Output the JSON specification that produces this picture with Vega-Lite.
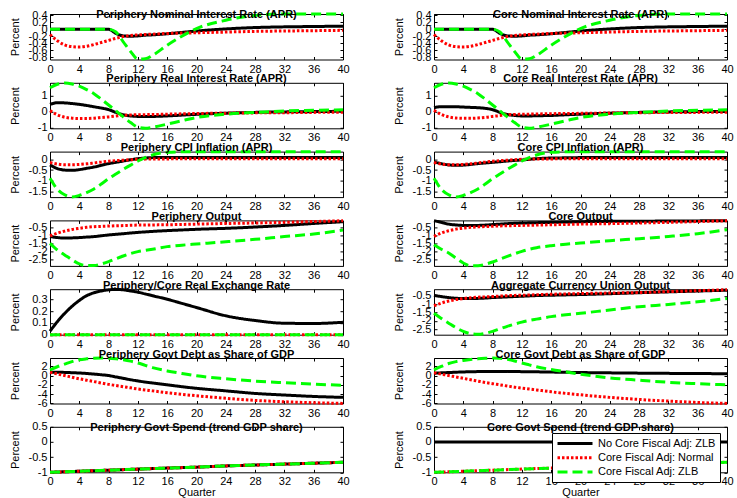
{
"$schema": "https://vega.github.io/schema/vega-lite/v6.json",
"padding": {"left": 8, "top": 7, "right": 5, "bottom": 5},
"background": "white",
"data": {"values": [
{"p":"pn","q":0,"a":0,"b":-0.15,"c":0},{"p":"pn","q":1,"a":0,"b":-0.33,"c":0},{"p":"pn","q":2,"a":0,"b":-0.45,"c":0},{"p":"pn","q":3,"a":0,"b":-0.5,"c":0},{"p":"pn","q":4,"a":0,"b":-0.51,"c":0},{"p":"pn","q":5,"a":0,"b":-0.49,"c":0},{"p":"pn","q":6,"a":0,"b":-0.44,"c":0},{"p":"pn","q":7,"a":0,"b":-0.38,"c":0},{"p":"pn","q":8,"a":0,"b":-0.32,"c":0},{"p":"pn","q":9,"a":-0.12,"b":-0.26,"c":-0.08},{"p":"pn","q":10,"a":-0.19,"b":-0.21,"c":-0.36},{"p":"pn","q":11,"a":-0.2,"b":-0.18,"c":-0.64},{"p":"pn","q":12,"a":-0.19,"b":-0.16,"c":-0.86},{"p":"pn","q":13,"a":-0.17,"b":-0.15,"c":-0.85},{"p":"pn","q":14,"a":-0.16,"b":-0.14,"c":-0.75},{"p":"pn","q":16,"a":-0.13,"b":-0.12,"c":-0.46},{"p":"pn","q":18,"a":-0.09,"b":-0.11,"c":-0.2},{"p":"pn","q":20,"a":-0.05,"b":-0.1,"c":0.02},{"p":"pn","q":24,"a":0.01,"b":-0.08,"c":0.26},{"p":"pn","q":28,"a":0.05,"b":-0.06,"c":0.4},{"p":"pn","q":32,"a":0.07,"b":-0.05,"c":0.44},{"p":"pn","q":36,"a":0.08,"b":-0.04,"c":0.44},{"p":"pn","q":40,"a":0.09,"b":-0.03,"c":0.44},
{"p":"cn","q":0,"a":0,"b":-0.15,"c":0},{"p":"cn","q":1,"a":0,"b":-0.33,"c":0},{"p":"cn","q":2,"a":0,"b":-0.45,"c":0},{"p":"cn","q":3,"a":0,"b":-0.5,"c":0},{"p":"cn","q":4,"a":0,"b":-0.51,"c":0},{"p":"cn","q":5,"a":0,"b":-0.49,"c":0},{"p":"cn","q":6,"a":0,"b":-0.44,"c":0},{"p":"cn","q":7,"a":0,"b":-0.38,"c":0},{"p":"cn","q":8,"a":0,"b":-0.32,"c":0},{"p":"cn","q":9,"a":-0.12,"b":-0.26,"c":-0.08},{"p":"cn","q":10,"a":-0.19,"b":-0.21,"c":-0.36},{"p":"cn","q":11,"a":-0.2,"b":-0.18,"c":-0.64},{"p":"cn","q":12,"a":-0.19,"b":-0.16,"c":-0.86},{"p":"cn","q":13,"a":-0.17,"b":-0.15,"c":-0.85},{"p":"cn","q":14,"a":-0.16,"b":-0.14,"c":-0.75},{"p":"cn","q":16,"a":-0.13,"b":-0.12,"c":-0.46},{"p":"cn","q":18,"a":-0.09,"b":-0.11,"c":-0.2},{"p":"cn","q":20,"a":-0.05,"b":-0.1,"c":0.02},{"p":"cn","q":24,"a":0.01,"b":-0.08,"c":0.26},{"p":"cn","q":28,"a":0.05,"b":-0.06,"c":0.4},{"p":"cn","q":32,"a":0.07,"b":-0.05,"c":0.44},{"p":"cn","q":36,"a":0.08,"b":-0.04,"c":0.44},{"p":"cn","q":40,"a":0.09,"b":-0.03,"c":0.44},
{"p":"pr","q":0,"a":0.45,"b":0.06,"c":1.48},{"p":"pr","q":1,"a":0.55,"b":-0.2,"c":1.7},{"p":"pr","q":2,"a":0.54,"b":-0.35,"c":1.78},{"p":"pr","q":3,"a":0.5,"b":-0.41,"c":1.72},{"p":"pr","q":4,"a":0.45,"b":-0.43,"c":1.58},{"p":"pr","q":5,"a":0.38,"b":-0.43,"c":1.37},{"p":"pr","q":6,"a":0.3,"b":-0.41,"c":1.11},{"p":"pr","q":7,"a":0.22,"b":-0.37,"c":0.77},{"p":"pr","q":8,"a":0.12,"b":-0.33,"c":0.41},{"p":"pr","q":9,"a":-0.05,"b":-0.28,"c":0.04},{"p":"pr","q":10,"a":-0.2,"b":-0.23,"c":-0.33},{"p":"pr","q":11,"a":-0.27,"b":-0.21,"c":-0.68},{"p":"pr","q":12,"a":-0.3,"b":-0.2,"c":-0.97},{"p":"pr","q":13,"a":-0.3,"b":-0.19,"c":-1.04},{"p":"pr","q":14,"a":-0.3,"b":-0.18,"c":-0.98},{"p":"pr","q":16,"a":-0.27,"b":-0.16,"c":-0.78},{"p":"pr","q":18,"a":-0.22,"b":-0.14,"c":-0.57},{"p":"pr","q":20,"a":-0.17,"b":-0.12,"c":-0.37},{"p":"pr","q":24,"a":-0.1,"b":-0.1,"c":-0.16},{"p":"pr","q":28,"a":-0.05,"b":-0.08,"c":-0.05},{"p":"pr","q":32,"a":-0.02,"b":-0.07,"c":0.04},{"p":"pr","q":36,"a":0,"b":-0.05,"c":0.08},{"p":"pr","q":40,"a":0.02,"b":-0.04,"c":0.11},
{"p":"cr","q":0,"a":0.25,"b":0.08,"c":1.48},{"p":"cr","q":1,"a":0.3,"b":-0.18,"c":1.7},{"p":"cr","q":2,"a":0.3,"b":-0.33,"c":1.78},{"p":"cr","q":3,"a":0.3,"b":-0.4,"c":1.72},{"p":"cr","q":4,"a":0.28,"b":-0.42,"c":1.58},{"p":"cr","q":5,"a":0.26,"b":-0.42,"c":1.37},{"p":"cr","q":6,"a":0.24,"b":-0.4,"c":1.11},{"p":"cr","q":7,"a":0.2,"b":-0.36,"c":0.77},{"p":"cr","q":8,"a":0.12,"b":-0.3,"c":0.41},{"p":"cr","q":9,"a":-0.05,"b":-0.25,"c":0.04},{"p":"cr","q":10,"a":-0.18,"b":-0.2,"c":-0.33},{"p":"cr","q":11,"a":-0.24,"b":-0.18,"c":-0.68},{"p":"cr","q":12,"a":-0.27,"b":-0.17,"c":-0.97},{"p":"cr","q":13,"a":-0.27,"b":-0.16,"c":-1.04},{"p":"cr","q":14,"a":-0.26,"b":-0.15,"c":-0.98},{"p":"cr","q":16,"a":-0.24,"b":-0.13,"c":-0.78},{"p":"cr","q":18,"a":-0.2,"b":-0.12,"c":-0.57},{"p":"cr","q":20,"a":-0.16,"b":-0.11,"c":-0.37},{"p":"cr","q":24,"a":-0.1,"b":-0.09,"c":-0.16},{"p":"cr","q":28,"a":-0.05,"b":-0.07,"c":-0.05},{"p":"cr","q":32,"a":-0.02,"b":-0.06,"c":0.04},{"p":"cr","q":36,"a":0,"b":-0.05,"c":0.08},{"p":"cr","q":40,"a":0.01,"b":-0.04,"c":0.11},
{"p":"pc","q":0,"a":-0.26,"b":-0.15,"c":-0.88},{"p":"pc","q":1,"a":-0.43,"b":-0.22,"c":-1.39},{"p":"pc","q":2,"a":-0.5,"b":-0.25,"c":-1.65},{"p":"pc","q":3,"a":-0.51,"b":-0.25,"c":-1.75},{"p":"pc","q":4,"a":-0.48,"b":-0.24,"c":-1.68},{"p":"pc","q":5,"a":-0.42,"b":-0.21,"c":-1.55},{"p":"pc","q":6,"a":-0.36,"b":-0.17,"c":-1.38},{"p":"pc","q":7,"a":-0.28,"b":-0.13,"c":-1.15},{"p":"pc","q":8,"a":-0.2,"b":-0.09,"c":-0.9},{"p":"pc","q":9,"a":-0.14,"b":-0.06,"c":-0.68},{"p":"pc","q":10,"a":-0.08,"b":-0.04,"c":-0.47},{"p":"pc","q":11,"a":-0.02,"b":-0.02,"c":-0.27},{"p":"pc","q":12,"a":0.03,"b":0,"c":-0.08},{"p":"pc","q":13,"a":0.06,"b":0.01,"c":0.08},{"p":"pc","q":14,"a":0.08,"b":0.02,"c":0.2},{"p":"pc","q":16,"a":0.09,"b":0.02,"c":0.33},{"p":"pc","q":18,"a":0.09,"b":0.03,"c":0.35},{"p":"pc","q":20,"a":0.09,"b":0.03,"c":0.35},{"p":"pc","q":24,"a":0.09,"b":0.03,"c":0.35},{"p":"pc","q":28,"a":0.09,"b":0.03,"c":0.35},{"p":"pc","q":32,"a":0.09,"b":0.03,"c":0.35},{"p":"pc","q":36,"a":0.09,"b":0.03,"c":0.35},{"p":"pc","q":40,"a":0.09,"b":0.03,"c":0.35},
{"p":"cc","q":0,"a":-0.12,"b":-0.15,"c":-0.88},{"p":"cc","q":1,"a":-0.2,"b":-0.22,"c":-1.39},{"p":"cc","q":2,"a":-0.26,"b":-0.25,"c":-1.65},{"p":"cc","q":3,"a":-0.28,"b":-0.25,"c":-1.75},{"p":"cc","q":4,"a":-0.27,"b":-0.24,"c":-1.68},{"p":"cc","q":5,"a":-0.24,"b":-0.21,"c":-1.55},{"p":"cc","q":6,"a":-0.2,"b":-0.17,"c":-1.38},{"p":"cc","q":7,"a":-0.17,"b":-0.13,"c":-1.15},{"p":"cc","q":8,"a":-0.14,"b":-0.09,"c":-0.9},{"p":"cc","q":9,"a":-0.11,"b":-0.06,"c":-0.68},{"p":"cc","q":10,"a":-0.08,"b":-0.04,"c":-0.47},{"p":"cc","q":11,"a":-0.05,"b":-0.02,"c":-0.27},{"p":"cc","q":12,"a":-0.03,"b":0,"c":-0.08},{"p":"cc","q":13,"a":0,"b":0.01,"c":0.08},{"p":"cc","q":14,"a":0.03,"b":0.02,"c":0.2},{"p":"cc","q":16,"a":0.06,"b":0.02,"c":0.33},{"p":"cc","q":18,"a":0.07,"b":0.03,"c":0.35},{"p":"cc","q":20,"a":0.08,"b":0.03,"c":0.35},{"p":"cc","q":24,"a":0.08,"b":0.03,"c":0.35},{"p":"cc","q":28,"a":0.08,"b":0.03,"c":0.35},{"p":"cc","q":32,"a":0.08,"b":0.03,"c":0.35},{"p":"cc","q":36,"a":0.08,"b":0.03,"c":0.35},{"p":"cc","q":40,"a":0.08,"b":0.03,"c":0.35},
{"p":"po","q":0,"a":-1.07,"b":-1.03,"c":-1.49},{"p":"po","q":1,"a":-1.13,"b":-0.86,"c":-1.9},{"p":"po","q":2,"a":-1.16,"b":-0.73,"c":-2.2},{"p":"po","q":3,"a":-1.15,"b":-0.63,"c":-2.5},{"p":"po","q":4,"a":-1.13,"b":-0.56,"c":-2.76},{"p":"po","q":5,"a":-1.1,"b":-0.5,"c":-2.86},{"p":"po","q":6,"a":-1.07,"b":-0.46,"c":-2.86},{"p":"po","q":7,"a":-1.02,"b":-0.44,"c":-2.76},{"p":"po","q":8,"a":-0.97,"b":-0.42,"c":-2.62},{"p":"po","q":9,"a":-0.93,"b":-0.4,"c":-2.44},{"p":"po","q":10,"a":-0.89,"b":-0.39,"c":-2.27},{"p":"po","q":11,"a":-0.85,"b":-0.37,"c":-2.12},{"p":"po","q":12,"a":-0.81,"b":-0.36,"c":-2.0},{"p":"po","q":13,"a":-0.78,"b":-0.36,"c":-1.92},{"p":"po","q":14,"a":-0.75,"b":-0.35,"c":-1.85},{"p":"po","q":16,"a":-0.7,"b":-0.34,"c":-1.69},{"p":"po","q":18,"a":-0.66,"b":-0.32,"c":-1.6},{"p":"po","q":20,"a":-0.62,"b":-0.3,"c":-1.53},{"p":"po","q":24,"a":-0.56,"b":-0.26,"c":-1.39},{"p":"po","q":28,"a":-0.48,"b":-0.23,"c":-1.24},{"p":"po","q":32,"a":-0.38,"b":-0.19,"c":-1.07},{"p":"po","q":36,"a":-0.26,"b":-0.14,"c":-0.91},{"p":"po","q":40,"a":-0.15,"b":-0.09,"c":-0.67},
{"p":"co","q":0,"a":-0.09,"b":-1.06,"c":-1.57},{"p":"co","q":1,"a":-0.19,"b":-0.85,"c":-1.85},{"p":"co","q":2,"a":-0.3,"b":-0.71,"c":-2.08},{"p":"co","q":3,"a":-0.35,"b":-0.61,"c":-2.4},{"p":"co","q":4,"a":-0.38,"b":-0.54,"c":-2.7},{"p":"co","q":5,"a":-0.39,"b":-0.5,"c":-2.87},{"p":"co","q":6,"a":-0.38,"b":-0.47,"c":-2.87},{"p":"co","q":7,"a":-0.36,"b":-0.45,"c":-2.78},{"p":"co","q":8,"a":-0.33,"b":-0.43,"c":-2.64},{"p":"co","q":9,"a":-0.3,"b":-0.41,"c":-2.46},{"p":"co","q":10,"a":-0.27,"b":-0.4,"c":-2.29},{"p":"co","q":11,"a":-0.25,"b":-0.39,"c":-2.13},{"p":"co","q":12,"a":-0.23,"b":-0.38,"c":-1.98},{"p":"co","q":13,"a":-0.22,"b":-0.37,"c":-1.86},{"p":"co","q":14,"a":-0.21,"b":-0.36,"c":-1.76},{"p":"co","q":16,"a":-0.19,"b":-0.34,"c":-1.63},{"p":"co","q":18,"a":-0.17,"b":-0.32,"c":-1.54},{"p":"co","q":20,"a":-0.15,"b":-0.3,"c":-1.47},{"p":"co","q":24,"a":-0.13,"b":-0.27,"c":-1.32},{"p":"co","q":28,"a":-0.12,"b":-0.23,"c":-1.2},{"p":"co","q":32,"a":-0.11,"b":-0.19,"c":-1.06},{"p":"co","q":36,"a":-0.1,"b":-0.14,"c":-0.89},{"p":"co","q":40,"a":-0.09,"b":-0.09,"c":-0.64},
{"p":"rx","q":0,"a":0.03,"b":0,"c":0},{"p":"rx","q":1,"a":0.11,"b":0,"c":0},{"p":"rx","q":2,"a":0.18,"b":0,"c":0},{"p":"rx","q":3,"a":0.24,"b":0,"c":0},{"p":"rx","q":4,"a":0.29,"b":0,"c":0},{"p":"rx","q":5,"a":0.33,"b":0,"c":0},{"p":"rx","q":6,"a":0.355,"b":0,"c":0},{"p":"rx","q":7,"a":0.37,"b":0,"c":0},{"p":"rx","q":8,"a":0.38,"b":0,"c":0},{"p":"rx","q":9,"a":0.383,"b":0,"c":0},{"p":"rx","q":10,"a":0.38,"b":0,"c":0},{"p":"rx","q":11,"a":0.37,"b":0,"c":0},{"p":"rx","q":12,"a":0.36,"b":0,"c":0},{"p":"rx","q":13,"a":0.345,"b":0,"c":0},{"p":"rx","q":14,"a":0.33,"b":0,"c":0},{"p":"rx","q":16,"a":0.3,"b":0,"c":0},{"p":"rx","q":18,"a":0.265,"b":0,"c":0},{"p":"rx","q":20,"a":0.23,"b":0,"c":0},{"p":"rx","q":24,"a":0.16,"b":0,"c":0},{"p":"rx","q":28,"a":0.12,"b":0,"c":0},{"p":"rx","q":32,"a":0.097,"b":0,"c":0},{"p":"rx","q":36,"a":0.095,"b":0,"c":0},{"p":"rx","q":40,"a":0.105,"b":0,"c":0},
{"p":"ao","q":0,"a":-0.46,"b":-1.09,"c":-1.54},{"p":"ao","q":1,"a":-0.54,"b":-0.93,"c":-1.85},{"p":"ao","q":2,"a":-0.6,"b":-0.81,"c":-2.13},{"p":"ao","q":3,"a":-0.64,"b":-0.72,"c":-2.4},{"p":"ao","q":4,"a":-0.66,"b":-0.66,"c":-2.62},{"p":"ao","q":5,"a":-0.66,"b":-0.61,"c":-2.76},{"p":"ao","q":6,"a":-0.65,"b":-0.58,"c":-2.8},{"p":"ao","q":7,"a":-0.63,"b":-0.56,"c":-2.74},{"p":"ao","q":8,"a":-0.6,"b":-0.54,"c":-2.62},{"p":"ao","q":9,"a":-0.58,"b":-0.51,"c":-2.47},{"p":"ao","q":10,"a":-0.56,"b":-0.49,"c":-2.32},{"p":"ao","q":11,"a":-0.54,"b":-0.47,"c":-2.19},{"p":"ao","q":12,"a":-0.52,"b":-0.46,"c":-2.07},{"p":"ao","q":13,"a":-0.5,"b":-0.45,"c":-1.97},{"p":"ao","q":14,"a":-0.48,"b":-0.43,"c":-1.89},{"p":"ao","q":16,"a":-0.46,"b":-0.4,"c":-1.74},{"p":"ao","q":18,"a":-0.44,"b":-0.38,"c":-1.63},{"p":"ao","q":20,"a":-0.42,"b":-0.36,"c":-1.54},{"p":"ao","q":24,"a":-0.37,"b":-0.33,"c":-1.34},{"p":"ao","q":28,"a":-0.31,"b":-0.3,"c":-1.15},{"p":"ao","q":32,"a":-0.26,"b":-0.24,"c":-1.01},{"p":"ao","q":36,"a":-0.21,"b":-0.19,"c":-0.85},{"p":"ao","q":40,"a":-0.16,"b":-0.13,"c":-0.66},
{"p":"pd","q":0,"a":0.72,"b":0.7,"c":1.24},{"p":"pd","q":1,"a":0.71,"b":0.35,"c":1.9},{"p":"pd","q":2,"a":0.68,"b":0,"c":2.46},{"p":"pd","q":3,"a":0.62,"b":-0.35,"c":3.0},{"p":"pd","q":4,"a":0.55,"b":-0.7,"c":3.4},{"p":"pd","q":5,"a":0.45,"b":-1.0,"c":3.6},{"p":"pd","q":6,"a":0.32,"b":-1.3,"c":3.72},{"p":"pd","q":7,"a":0.17,"b":-1.6,"c":3.76},{"p":"pd","q":8,"a":0,"b":-1.9,"c":3.74},{"p":"pd","q":9,"a":-0.3,"b":-2.15,"c":3.62},{"p":"pd","q":10,"a":-0.6,"b":-2.4,"c":3.4},{"p":"pd","q":11,"a":-0.9,"b":-2.65,"c":3.1},{"p":"pd","q":12,"a":-1.16,"b":-2.9,"c":2.7},{"p":"pd","q":13,"a":-1.4,"b":-3.1,"c":2.2},{"p":"pd","q":14,"a":-1.6,"b":-3.3,"c":1.7},{"p":"pd","q":16,"a":-2.0,"b":-3.7,"c":1.0},{"p":"pd","q":18,"a":-2.4,"b":-4.05,"c":0.45},{"p":"pd","q":20,"a":-2.75,"b":-4.35,"c":-0.05},{"p":"pd","q":24,"a":-3.3,"b":-4.9,"c":-0.7},{"p":"pd","q":28,"a":-3.85,"b":-5.35,"c":-1.2},{"p":"pd","q":32,"a":-4.2,"b":-5.65,"c":-1.55},{"p":"pd","q":36,"a":-4.5,"b":-5.85,"c":-1.85},{"p":"pd","q":40,"a":-4.7,"b":-6.0,"c":-2.1},
{"p":"cd","q":0,"a":0.5,"b":0.6,"c":1.24},{"p":"cd","q":1,"a":0.58,"b":0.3,"c":1.95},{"p":"cd","q":2,"a":0.65,"b":0,"c":2.6},{"p":"cd","q":3,"a":0.72,"b":-0.3,"c":3.0},{"p":"cd","q":4,"a":0.78,"b":-0.6,"c":3.25},{"p":"cd","q":5,"a":0.82,"b":-0.9,"c":3.45},{"p":"cd","q":6,"a":0.85,"b":-1.2,"c":3.6},{"p":"cd","q":7,"a":0.87,"b":-1.5,"c":3.7},{"p":"cd","q":8,"a":0.88,"b":-1.75,"c":3.76},{"p":"cd","q":9,"a":0.88,"b":-2.0,"c":3.7},{"p":"cd","q":10,"a":0.87,"b":-2.25,"c":3.5},{"p":"cd","q":11,"a":0.86,"b":-2.5,"c":3.15},{"p":"cd","q":12,"a":0.84,"b":-2.7,"c":2.7},{"p":"cd","q":13,"a":0.82,"b":-2.9,"c":2.3},{"p":"cd","q":14,"a":0.8,"b":-3.1,"c":1.9},{"p":"cd","q":16,"a":0.75,"b":-3.5,"c":1.3},{"p":"cd","q":18,"a":0.7,"b":-3.85,"c":0.8},{"p":"cd","q":20,"a":0.65,"b":-4.15,"c":0.3},{"p":"cd","q":24,"a":0.58,"b":-4.7,"c":-0.5},{"p":"cd","q":28,"a":0.52,"b":-5.15,"c":-1.0},{"p":"cd","q":32,"a":0.47,"b":-5.5,"c":-1.45},{"p":"cd","q":36,"a":0.43,"b":-5.8,"c":-1.75},{"p":"cd","q":40,"a":0.4,"b":-6.0,"c":-2.0},
{"p":"ps","q":0,"a":-1.0,"b":-1.0,"c":-1.0},{"p":"ps","q":4,"a":-0.965,"b":-0.965,"c":-0.965},{"p":"ps","q":8,"a":-0.93,"b":-0.93,"c":-0.93},{"p":"ps","q":12,"a":-0.895,"b":-0.895,"c":-0.895},{"p":"ps","q":16,"a":-0.86,"b":-0.86,"c":-0.86},{"p":"ps","q":20,"a":-0.83,"b":-0.83,"c":-0.83},{"p":"ps","q":24,"a":-0.79,"b":-0.79,"c":-0.79},{"p":"ps","q":28,"a":-0.76,"b":-0.76,"c":-0.76},{"p":"ps","q":32,"a":-0.73,"b":-0.73,"c":-0.73},{"p":"ps","q":36,"a":-0.7,"b":-0.7,"c":-0.7},{"p":"ps","q":40,"a":-0.67,"b":-0.67,"c":-0.67},
{"p":"cs","q":0,"a":0,"b":-1.0,"c":-1.0},{"p":"cs","q":4,"a":0,"b":-0.965,"c":-0.965},{"p":"cs","q":8,"a":0,"b":-0.93,"c":-0.93},{"p":"cs","q":12,"a":0,"b":-0.895,"c":-0.895},{"p":"cs","q":16,"a":0,"b":-0.86,"c":-0.86},{"p":"cs","q":20,"a":0,"b":-0.83,"c":-0.83},{"p":"cs","q":24,"a":0,"b":-0.79,"c":-0.79},{"p":"cs","q":28,"a":0,"b":-0.76,"c":-0.76},{"p":"cs","q":32,"a":0,"b":-0.73,"c":-0.73},{"p":"cs","q":36,"a":0,"b":-0.7,"c":-0.7},{"p":"cs","q":40,"a":0,"b":-0.67,"c":-0.67}
]},
"transform": [{"fold": ["a", "b", "c"], "as": ["s", "v"]}],
"columns": 2,
"spacing": {"row": 22.8, "column": 91},
"bounds": "flush",
"concat": [
{"width": 293, "height": 45.5, "title": {"text": "Periphery Nominal Interest Rate (APR)", "offset": -11.6}, "transform": [{"filter": "datum.p == 'pn'"}],
 "resolve": {"axis": {"x": "independent", "y": "independent"}},
 "layer": [
  {"mark": "line", "encoding": {
   "x": {"field": "q", "type": "quantitative", "scale": {"domain": [0, 40], "nice": false}, "axis": {"values": [0,4,8,12,16,20,24,28,32,36,40], "title": null}},
   "y": {"field": "v", "type": "quantitative", "scale": {"domain": [-0.87, 0.44], "nice": false, "zero": false}, "axis": {"values": [-0.8,-0.6,-0.4,-0.2,0,0.2,0.4], "title": "Percent"}},
   "color": {"field": "s", "type": "nominal", "title": null, "scale": {"domain": ["a","b","c"], "range": ["#000000","#ff0000","#00ff00"]}, "legend": {"labelExpr": "datum.value == 'a' ? 'No Core Fiscal Adj: ZLB' : datum.value == 'b' ? 'Core Fiscal Adj: Normal' : 'Core Fiscal Adj: ZLB'"}},
   "strokeDash": {"field": "s", "type": "nominal", "title": null, "scale": {"domain": ["a","b","c"], "range": [[1,0],[2.5,2],[10,5]]}, "legend": {"labelExpr": "datum.value == 'a' ? 'No Core Fiscal Adj: ZLB' : datum.value == 'b' ? 'Core Fiscal Adj: Normal' : 'Core Fiscal Adj: ZLB'"}}}},
  {"mark": {"type": "line", "opacity": 0}, "encoding": {
   "x": {"field": "q", "type": "quantitative", "scale": {"domain": [0, 40], "nice": false}, "axis": {"orient": "top", "values": [0,4,8,12,16,20,24,28,32,36,40], "labels": false, "title": null}},
   "y": {"field": "v", "type": "quantitative", "scale": {"domain": [-0.87, 0.44], "nice": false, "zero": false}, "axis": {"orient": "right", "values": [-0.8,-0.6,-0.4,-0.2,0,0.2,0.4], "labels": false, "title": null}}}}
 ]},
{"width": 293, "height": 45.5, "title": {"text": "Core Nominal Interest Rate (APR)", "offset": -11.6}, "transform": [{"filter": "datum.p == 'cn'"}],
 "resolve": {"axis": {"x": "independent", "y": "independent"}},
 "layer": [
  {"mark": "line", "encoding": {
   "x": {"field": "q", "type": "quantitative", "scale": {"domain": [0, 40], "nice": false}, "axis": {"values": [0,4,8,12,16,20,24,28,32,36,40], "title": null}},
   "y": {"field": "v", "type": "quantitative", "scale": {"domain": [-0.87, 0.44], "nice": false, "zero": false}, "axis": {"values": [-0.8,-0.6,-0.4,-0.2,0,0.2,0.4], "title": "Percent"}},
   "color": {"field": "s", "type": "nominal", "title": null, "scale": {"domain": ["a","b","c"], "range": ["#000000","#ff0000","#00ff00"]}, "legend": {"labelExpr": "datum.value == 'a' ? 'No Core Fiscal Adj: ZLB' : datum.value == 'b' ? 'Core Fiscal Adj: Normal' : 'Core Fiscal Adj: ZLB'"}},
   "strokeDash": {"field": "s", "type": "nominal", "title": null, "scale": {"domain": ["a","b","c"], "range": [[1,0],[2.5,2],[10,5]]}, "legend": {"labelExpr": "datum.value == 'a' ? 'No Core Fiscal Adj: ZLB' : datum.value == 'b' ? 'Core Fiscal Adj: Normal' : 'Core Fiscal Adj: ZLB'"}}}},
  {"mark": {"type": "line", "opacity": 0}, "encoding": {
   "x": {"field": "q", "type": "quantitative", "scale": {"domain": [0, 40], "nice": false}, "axis": {"orient": "top", "values": [0,4,8,12,16,20,24,28,32,36,40], "labels": false, "title": null}},
   "y": {"field": "v", "type": "quantitative", "scale": {"domain": [-0.87, 0.44], "nice": false, "zero": false}, "axis": {"orient": "right", "values": [-0.8,-0.6,-0.4,-0.2,0,0.2,0.4], "labels": false, "title": null}}}}
 ]},
{"width": 293, "height": 45.5, "title": {"text": "Periphery Real Interest Rate (APR)", "offset": -7.5}, "transform": [{"filter": "datum.p == 'pr'"}],
 "resolve": {"axis": {"x": "independent", "y": "independent"}},
 "layer": [
  {"mark": "line", "encoding": {
   "x": {"field": "q", "type": "quantitative", "scale": {"domain": [0, 40], "nice": false}, "axis": {"values": [0,4,8,12,16,20,24,28,32,36,40], "title": null}},
   "y": {"field": "v", "type": "quantitative", "scale": {"domain": [-1.04, 1.79], "nice": false, "zero": false}, "axis": {"values": [-1,0,1], "title": "Percent"}},
   "color": {"field": "s", "type": "nominal", "title": null, "scale": {"domain": ["a","b","c"], "range": ["#000000","#ff0000","#00ff00"]}, "legend": {"labelExpr": "datum.value == 'a' ? 'No Core Fiscal Adj: ZLB' : datum.value == 'b' ? 'Core Fiscal Adj: Normal' : 'Core Fiscal Adj: ZLB'"}},
   "strokeDash": {"field": "s", "type": "nominal", "title": null, "scale": {"domain": ["a","b","c"], "range": [[1,0],[2.5,2],[10,5]]}, "legend": {"labelExpr": "datum.value == 'a' ? 'No Core Fiscal Adj: ZLB' : datum.value == 'b' ? 'Core Fiscal Adj: Normal' : 'Core Fiscal Adj: ZLB'"}}}},
  {"mark": {"type": "line", "opacity": 0}, "encoding": {
   "x": {"field": "q", "type": "quantitative", "scale": {"domain": [0, 40], "nice": false}, "axis": {"orient": "top", "values": [0,4,8,12,16,20,24,28,32,36,40], "labels": false, "title": null}},
   "y": {"field": "v", "type": "quantitative", "scale": {"domain": [-1.04, 1.79], "nice": false, "zero": false}, "axis": {"orient": "right", "values": [-1,0,1], "labels": false, "title": null}}}}
 ]},
{"width": 293, "height": 45.5, "title": {"text": "Core Real Interest Rate (APR)", "offset": -7.5}, "transform": [{"filter": "datum.p == 'cr'"}],
 "resolve": {"axis": {"x": "independent", "y": "independent"}},
 "layer": [
  {"mark": "line", "encoding": {
   "x": {"field": "q", "type": "quantitative", "scale": {"domain": [0, 40], "nice": false}, "axis": {"values": [0,4,8,12,16,20,24,28,32,36,40], "title": null}},
   "y": {"field": "v", "type": "quantitative", "scale": {"domain": [-1.04, 1.79], "nice": false, "zero": false}, "axis": {"values": [-1,0,1], "title": "Percent"}},
   "color": {"field": "s", "type": "nominal", "title": null, "scale": {"domain": ["a","b","c"], "range": ["#000000","#ff0000","#00ff00"]}, "legend": {"labelExpr": "datum.value == 'a' ? 'No Core Fiscal Adj: ZLB' : datum.value == 'b' ? 'Core Fiscal Adj: Normal' : 'Core Fiscal Adj: ZLB'"}},
   "strokeDash": {"field": "s", "type": "nominal", "title": null, "scale": {"domain": ["a","b","c"], "range": [[1,0],[2.5,2],[10,5]]}, "legend": {"labelExpr": "datum.value == 'a' ? 'No Core Fiscal Adj: ZLB' : datum.value == 'b' ? 'Core Fiscal Adj: Normal' : 'Core Fiscal Adj: ZLB'"}}}},
  {"mark": {"type": "line", "opacity": 0}, "encoding": {
   "x": {"field": "q", "type": "quantitative", "scale": {"domain": [0, 40], "nice": false}, "axis": {"orient": "top", "values": [0,4,8,12,16,20,24,28,32,36,40], "labels": false, "title": null}},
   "y": {"field": "v", "type": "quantitative", "scale": {"domain": [-1.04, 1.79], "nice": false, "zero": false}, "axis": {"orient": "right", "values": [-1,0,1], "labels": false, "title": null}}}}
 ]},
{"width": 293, "height": 45.5, "title": {"text": "Periphery CPI Inflation (APR)", "offset": -7.5}, "transform": [{"filter": "datum.p == 'pc'"}],
 "resolve": {"axis": {"x": "independent", "y": "independent"}},
 "layer": [
  {"mark": "line", "encoding": {
   "x": {"field": "q", "type": "quantitative", "scale": {"domain": [0, 40], "nice": false}, "axis": {"values": [0,4,8,12,16,20,24,28,32,36,40], "title": null}},
   "y": {"field": "v", "type": "quantitative", "scale": {"domain": [-1.76, 0.36], "nice": false, "zero": false}, "axis": {"values": [-1.5,-1,-0.5,0], "title": "Percent"}},
   "color": {"field": "s", "type": "nominal", "title": null, "scale": {"domain": ["a","b","c"], "range": ["#000000","#ff0000","#00ff00"]}, "legend": {"labelExpr": "datum.value == 'a' ? 'No Core Fiscal Adj: ZLB' : datum.value == 'b' ? 'Core Fiscal Adj: Normal' : 'Core Fiscal Adj: ZLB'"}},
   "strokeDash": {"field": "s", "type": "nominal", "title": null, "scale": {"domain": ["a","b","c"], "range": [[1,0],[2.5,2],[10,5]]}, "legend": {"labelExpr": "datum.value == 'a' ? 'No Core Fiscal Adj: ZLB' : datum.value == 'b' ? 'Core Fiscal Adj: Normal' : 'Core Fiscal Adj: ZLB'"}}}},
  {"mark": {"type": "line", "opacity": 0}, "encoding": {
   "x": {"field": "q", "type": "quantitative", "scale": {"domain": [0, 40], "nice": false}, "axis": {"orient": "top", "values": [0,4,8,12,16,20,24,28,32,36,40], "labels": false, "title": null}},
   "y": {"field": "v", "type": "quantitative", "scale": {"domain": [-1.76, 0.36], "nice": false, "zero": false}, "axis": {"orient": "right", "values": [-1.5,-1,-0.5,0], "labels": false, "title": null}}}}
 ]},
{"width": 293, "height": 45.5, "title": {"text": "Core CPI Inflation (APR)", "offset": -7.5}, "transform": [{"filter": "datum.p == 'cc'"}],
 "resolve": {"axis": {"x": "independent", "y": "independent"}},
 "layer": [
  {"mark": "line", "encoding": {
   "x": {"field": "q", "type": "quantitative", "scale": {"domain": [0, 40], "nice": false}, "axis": {"values": [0,4,8,12,16,20,24,28,32,36,40], "title": null}},
   "y": {"field": "v", "type": "quantitative", "scale": {"domain": [-1.76, 0.36], "nice": false, "zero": false}, "axis": {"values": [-1.5,-1,-0.5,0], "title": "Percent"}},
   "color": {"field": "s", "type": "nominal", "title": null, "scale": {"domain": ["a","b","c"], "range": ["#000000","#ff0000","#00ff00"]}, "legend": {"labelExpr": "datum.value == 'a' ? 'No Core Fiscal Adj: ZLB' : datum.value == 'b' ? 'Core Fiscal Adj: Normal' : 'Core Fiscal Adj: ZLB'"}},
   "strokeDash": {"field": "s", "type": "nominal", "title": null, "scale": {"domain": ["a","b","c"], "range": [[1,0],[2.5,2],[10,5]]}, "legend": {"labelExpr": "datum.value == 'a' ? 'No Core Fiscal Adj: ZLB' : datum.value == 'b' ? 'Core Fiscal Adj: Normal' : 'Core Fiscal Adj: ZLB'"}}}},
  {"mark": {"type": "line", "opacity": 0}, "encoding": {
   "x": {"field": "q", "type": "quantitative", "scale": {"domain": [0, 40], "nice": false}, "axis": {"orient": "top", "values": [0,4,8,12,16,20,24,28,32,36,40], "labels": false, "title": null}},
   "y": {"field": "v", "type": "quantitative", "scale": {"domain": [-1.76, 0.36], "nice": false, "zero": false}, "axis": {"orient": "right", "values": [-1.5,-1,-0.5,0], "labels": false, "title": null}}}}
 ]},
{"width": 293, "height": 45.5, "title": {"text": "Periphery Output", "offset": -7.5}, "transform": [{"filter": "datum.p == 'po'"}],
 "resolve": {"axis": {"x": "independent", "y": "independent"}},
 "layer": [
  {"mark": "line", "encoding": {
   "x": {"field": "q", "type": "quantitative", "scale": {"domain": [0, 40], "nice": false}, "axis": {"values": [0,4,8,12,16,20,24,28,32,36,40], "title": null}},
   "y": {"field": "v", "type": "quantitative", "scale": {"domain": [-2.88, -0.07], "nice": false, "zero": false}, "axis": {"values": [-2.5,-2,-1.5,-1,-0.5], "title": "Percent"}},
   "color": {"field": "s", "type": "nominal", "title": null, "scale": {"domain": ["a","b","c"], "range": ["#000000","#ff0000","#00ff00"]}, "legend": {"labelExpr": "datum.value == 'a' ? 'No Core Fiscal Adj: ZLB' : datum.value == 'b' ? 'Core Fiscal Adj: Normal' : 'Core Fiscal Adj: ZLB'"}},
   "strokeDash": {"field": "s", "type": "nominal", "title": null, "scale": {"domain": ["a","b","c"], "range": [[1,0],[2.5,2],[10,5]]}, "legend": {"labelExpr": "datum.value == 'a' ? 'No Core Fiscal Adj: ZLB' : datum.value == 'b' ? 'Core Fiscal Adj: Normal' : 'Core Fiscal Adj: ZLB'"}}}},
  {"mark": {"type": "line", "opacity": 0}, "encoding": {
   "x": {"field": "q", "type": "quantitative", "scale": {"domain": [0, 40], "nice": false}, "axis": {"orient": "top", "values": [0,4,8,12,16,20,24,28,32,36,40], "labels": false, "title": null}},
   "y": {"field": "v", "type": "quantitative", "scale": {"domain": [-2.88, -0.07], "nice": false, "zero": false}, "axis": {"orient": "right", "values": [-2.5,-2,-1.5,-1,-0.5], "labels": false, "title": null}}}}
 ]},
{"width": 293, "height": 45.5, "title": {"text": "Core Output", "offset": -7.5}, "transform": [{"filter": "datum.p == 'co'"}],
 "resolve": {"axis": {"x": "independent", "y": "independent"}},
 "layer": [
  {"mark": "line", "encoding": {
   "x": {"field": "q", "type": "quantitative", "scale": {"domain": [0, 40], "nice": false}, "axis": {"values": [0,4,8,12,16,20,24,28,32,36,40], "title": null}},
   "y": {"field": "v", "type": "quantitative", "scale": {"domain": [-2.88, -0.07], "nice": false, "zero": false}, "axis": {"values": [-2.5,-2,-1.5,-1,-0.5], "title": "Percent"}},
   "color": {"field": "s", "type": "nominal", "title": null, "scale": {"domain": ["a","b","c"], "range": ["#000000","#ff0000","#00ff00"]}, "legend": {"labelExpr": "datum.value == 'a' ? 'No Core Fiscal Adj: ZLB' : datum.value == 'b' ? 'Core Fiscal Adj: Normal' : 'Core Fiscal Adj: ZLB'"}},
   "strokeDash": {"field": "s", "type": "nominal", "title": null, "scale": {"domain": ["a","b","c"], "range": [[1,0],[2.5,2],[10,5]]}, "legend": {"labelExpr": "datum.value == 'a' ? 'No Core Fiscal Adj: ZLB' : datum.value == 'b' ? 'Core Fiscal Adj: Normal' : 'Core Fiscal Adj: ZLB'"}}}},
  {"mark": {"type": "line", "opacity": 0}, "encoding": {
   "x": {"field": "q", "type": "quantitative", "scale": {"domain": [0, 40], "nice": false}, "axis": {"orient": "top", "values": [0,4,8,12,16,20,24,28,32,36,40], "labels": false, "title": null}},
   "y": {"field": "v", "type": "quantitative", "scale": {"domain": [-2.88, -0.07], "nice": false, "zero": false}, "axis": {"orient": "right", "values": [-2.5,-2,-1.5,-1,-0.5], "labels": false, "title": null}}}}
 ]},
{"width": 293, "height": 45.5, "title": {"text": "Periphery/Core Real Exchange Rate", "offset": -7.5}, "transform": [{"filter": "datum.p == 'rx'"}],
 "resolve": {"axis": {"x": "independent", "y": "independent"}},
 "layer": [
  {"mark": "line", "encoding": {
   "x": {"field": "q", "type": "quantitative", "scale": {"domain": [0, 40], "nice": false}, "axis": {"values": [0,4,8,12,16,20,24,28,32,36,40], "title": null}},
   "y": {"field": "v", "type": "quantitative", "scale": {"domain": [0, 0.385], "nice": false, "zero": false}, "axis": {"values": [0,0.1,0.2,0.3], "title": "Percent"}},
   "color": {"field": "s", "type": "nominal", "title": null, "scale": {"domain": ["a","b","c"], "range": ["#000000","#ff0000","#00ff00"]}, "legend": {"labelExpr": "datum.value == 'a' ? 'No Core Fiscal Adj: ZLB' : datum.value == 'b' ? 'Core Fiscal Adj: Normal' : 'Core Fiscal Adj: ZLB'"}},
   "strokeDash": {"field": "s", "type": "nominal", "title": null, "scale": {"domain": ["a","b","c"], "range": [[1,0],[2.5,2],[10,5]]}, "legend": {"labelExpr": "datum.value == 'a' ? 'No Core Fiscal Adj: ZLB' : datum.value == 'b' ? 'Core Fiscal Adj: Normal' : 'Core Fiscal Adj: ZLB'"}}}},
  {"mark": {"type": "line", "opacity": 0}, "encoding": {
   "x": {"field": "q", "type": "quantitative", "scale": {"domain": [0, 40], "nice": false}, "axis": {"orient": "top", "values": [0,4,8,12,16,20,24,28,32,36,40], "labels": false, "title": null}},
   "y": {"field": "v", "type": "quantitative", "scale": {"domain": [0, 0.385], "nice": false, "zero": false}, "axis": {"orient": "right", "values": [0,0.1,0.2,0.3], "labels": false, "title": null}}}}
 ]},
{"width": 293, "height": 45.5, "title": {"text": "Aggregate Currency Union Output", "offset": -7.5}, "transform": [{"filter": "datum.p == 'ao'"}],
 "resolve": {"axis": {"x": "independent", "y": "independent"}},
 "layer": [
  {"mark": "line", "encoding": {
   "x": {"field": "q", "type": "quantitative", "scale": {"domain": [0, 40], "nice": false}, "axis": {"values": [0,4,8,12,16,20,24,28,32,36,40], "title": null}},
   "y": {"field": "v", "type": "quantitative", "scale": {"domain": [-2.82, -0.1], "nice": false, "zero": false}, "axis": {"values": [-2.5,-2,-1.5,-1,-0.5], "title": "Percent"}},
   "color": {"field": "s", "type": "nominal", "title": null, "scale": {"domain": ["a","b","c"], "range": ["#000000","#ff0000","#00ff00"]}, "legend": {"labelExpr": "datum.value == 'a' ? 'No Core Fiscal Adj: ZLB' : datum.value == 'b' ? 'Core Fiscal Adj: Normal' : 'Core Fiscal Adj: ZLB'"}},
   "strokeDash": {"field": "s", "type": "nominal", "title": null, "scale": {"domain": ["a","b","c"], "range": [[1,0],[2.5,2],[10,5]]}, "legend": {"labelExpr": "datum.value == 'a' ? 'No Core Fiscal Adj: ZLB' : datum.value == 'b' ? 'Core Fiscal Adj: Normal' : 'Core Fiscal Adj: ZLB'"}}}},
  {"mark": {"type": "line", "opacity": 0}, "encoding": {
   "x": {"field": "q", "type": "quantitative", "scale": {"domain": [0, 40], "nice": false}, "axis": {"orient": "top", "values": [0,4,8,12,16,20,24,28,32,36,40], "labels": false, "title": null}},
   "y": {"field": "v", "type": "quantitative", "scale": {"domain": [-2.82, -0.1], "nice": false, "zero": false}, "axis": {"orient": "right", "values": [-2.5,-2,-1.5,-1,-0.5], "labels": false, "title": null}}}}
 ]},
{"width": 293, "height": 45.5, "title": {"text": "Periphery Govt Debt as Share of GDP", "offset": -7.5}, "transform": [{"filter": "datum.p == 'pd'"}],
 "resolve": {"axis": {"x": "independent", "y": "independent"}},
 "layer": [
  {"mark": "line", "encoding": {
   "x": {"field": "q", "type": "quantitative", "scale": {"domain": [0, 40], "nice": false}, "axis": {"values": [0,4,8,12,16,20,24,28,32,36,40], "title": null}},
   "y": {"field": "v", "type": "quantitative", "scale": {"domain": [-6.02, 3.78], "nice": false, "zero": false}, "axis": {"values": [-6,-4,-2,0,2], "title": "Percent"}},
   "color": {"field": "s", "type": "nominal", "title": null, "scale": {"domain": ["a","b","c"], "range": ["#000000","#ff0000","#00ff00"]}, "legend": {"labelExpr": "datum.value == 'a' ? 'No Core Fiscal Adj: ZLB' : datum.value == 'b' ? 'Core Fiscal Adj: Normal' : 'Core Fiscal Adj: ZLB'"}},
   "strokeDash": {"field": "s", "type": "nominal", "title": null, "scale": {"domain": ["a","b","c"], "range": [[1,0],[2.5,2],[10,5]]}, "legend": {"labelExpr": "datum.value == 'a' ? 'No Core Fiscal Adj: ZLB' : datum.value == 'b' ? 'Core Fiscal Adj: Normal' : 'Core Fiscal Adj: ZLB'"}}}},
  {"mark": {"type": "line", "opacity": 0}, "encoding": {
   "x": {"field": "q", "type": "quantitative", "scale": {"domain": [0, 40], "nice": false}, "axis": {"orient": "top", "values": [0,4,8,12,16,20,24,28,32,36,40], "labels": false, "title": null}},
   "y": {"field": "v", "type": "quantitative", "scale": {"domain": [-6.02, 3.78], "nice": false, "zero": false}, "axis": {"orient": "right", "values": [-6,-4,-2,0,2], "labels": false, "title": null}}}}
 ]},
{"width": 293, "height": 45.5, "title": {"text": "Core Govt Debt as Share of GDP", "offset": -7.5}, "transform": [{"filter": "datum.p == 'cd'"}],
 "resolve": {"axis": {"x": "independent", "y": "independent"}},
 "layer": [
  {"mark": "line", "encoding": {
   "x": {"field": "q", "type": "quantitative", "scale": {"domain": [0, 40], "nice": false}, "axis": {"values": [0,4,8,12,16,20,24,28,32,36,40], "title": null}},
   "y": {"field": "v", "type": "quantitative", "scale": {"domain": [-6.02, 3.78], "nice": false, "zero": false}, "axis": {"values": [-6,-4,-2,0,2], "title": "Percent"}},
   "color": {"field": "s", "type": "nominal", "title": null, "scale": {"domain": ["a","b","c"], "range": ["#000000","#ff0000","#00ff00"]}, "legend": {"labelExpr": "datum.value == 'a' ? 'No Core Fiscal Adj: ZLB' : datum.value == 'b' ? 'Core Fiscal Adj: Normal' : 'Core Fiscal Adj: ZLB'"}},
   "strokeDash": {"field": "s", "type": "nominal", "title": null, "scale": {"domain": ["a","b","c"], "range": [[1,0],[2.5,2],[10,5]]}, "legend": {"labelExpr": "datum.value == 'a' ? 'No Core Fiscal Adj: ZLB' : datum.value == 'b' ? 'Core Fiscal Adj: Normal' : 'Core Fiscal Adj: ZLB'"}}}},
  {"mark": {"type": "line", "opacity": 0}, "encoding": {
   "x": {"field": "q", "type": "quantitative", "scale": {"domain": [0, 40], "nice": false}, "axis": {"orient": "top", "values": [0,4,8,12,16,20,24,28,32,36,40], "labels": false, "title": null}},
   "y": {"field": "v", "type": "quantitative", "scale": {"domain": [-6.02, 3.78], "nice": false, "zero": false}, "axis": {"orient": "right", "values": [-6,-4,-2,0,2], "labels": false, "title": null}}}}
 ]},
{"width": 293, "height": 45.5, "title": {"text": "Periphery Govt Spend (trend GDP share)", "offset": -12.5}, "transform": [{"filter": "datum.p == 'ps'"}],
 "resolve": {"axis": {"x": "independent", "y": "independent"}},
 "layer": [
  {"mark": "line", "encoding": {
   "x": {"field": "q", "type": "quantitative", "scale": {"domain": [0, 40], "nice": false}, "axis": {"values": [0,4,8,12,16,20,24,28,32,36,40], "title": "Quarter"}},
   "y": {"field": "v", "type": "quantitative", "scale": {"domain": [-1, 0.5], "nice": false, "zero": false}, "axis": {"values": [-1,-0.5,0,0.5], "title": "Percent"}},
   "color": {"field": "s", "type": "nominal", "title": null, "scale": {"domain": ["a","b","c"], "range": ["#000000","#ff0000","#00ff00"]}, "legend": {"labelExpr": "datum.value == 'a' ? 'No Core Fiscal Adj: ZLB' : datum.value == 'b' ? 'Core Fiscal Adj: Normal' : 'Core Fiscal Adj: ZLB'"}},
   "strokeDash": {"field": "s", "type": "nominal", "title": null, "scale": {"domain": ["a","b","c"], "range": [[1,0],[2.5,2],[10,5]]}, "legend": {"labelExpr": "datum.value == 'a' ? 'No Core Fiscal Adj: ZLB' : datum.value == 'b' ? 'Core Fiscal Adj: Normal' : 'Core Fiscal Adj: ZLB'"}}}},
  {"mark": {"type": "line", "opacity": 0}, "encoding": {
   "x": {"field": "q", "type": "quantitative", "scale": {"domain": [0, 40], "nice": false}, "axis": {"orient": "top", "values": [0,4,8,12,16,20,24,28,32,36,40], "labels": false, "title": null}},
   "y": {"field": "v", "type": "quantitative", "scale": {"domain": [-1, 0.5], "nice": false, "zero": false}, "axis": {"orient": "right", "values": [-1,-0.5,0,0.5], "labels": false, "title": null}}}}
 ]},
{"width": 293, "height": 45.5, "title": {"text": "Core Govt Spend (trend GDP share)", "offset": -12.5}, "transform": [{"filter": "datum.p == 'cs'"}],
 "resolve": {"axis": {"x": "independent", "y": "independent"}},
 "layer": [
  {"mark": "line", "encoding": {
   "x": {"field": "q", "type": "quantitative", "scale": {"domain": [0, 40], "nice": false}, "axis": {"values": [0,4,8,12,16,20,24,28,32,36,40], "title": "Quarter"}},
   "y": {"field": "v", "type": "quantitative", "scale": {"domain": [-1, 0.5], "nice": false, "zero": false}, "axis": {"values": [-1,-0.5,0,0.5], "title": "Percent"}},
   "color": {"field": "s", "type": "nominal", "title": null, "scale": {"domain": ["a","b","c"], "range": ["#000000","#ff0000","#00ff00"]}, "legend": {"labelExpr": "datum.value == 'a' ? 'No Core Fiscal Adj: ZLB' : datum.value == 'b' ? 'Core Fiscal Adj: Normal' : 'Core Fiscal Adj: ZLB'"}},
   "strokeDash": {"field": "s", "type": "nominal", "title": null, "scale": {"domain": ["a","b","c"], "range": [[1,0],[2.5,2],[10,5]]}, "legend": {"labelExpr": "datum.value == 'a' ? 'No Core Fiscal Adj: ZLB' : datum.value == 'b' ? 'Core Fiscal Adj: Normal' : 'Core Fiscal Adj: ZLB'"}}}},
  {"mark": {"type": "line", "opacity": 0}, "encoding": {
   "x": {"field": "q", "type": "quantitative", "scale": {"domain": [0, 40], "nice": false}, "axis": {"orient": "top", "values": [0,4,8,12,16,20,24,28,32,36,40], "labels": false, "title": null}},
   "y": {"field": "v", "type": "quantitative", "scale": {"domain": [-1, 0.5], "nice": false, "zero": false}, "axis": {"orient": "right", "values": [-1,-0.5,0,0.5], "labels": false, "title": null}}}}
 ]}
],
"config": {
 "font": "Liberation Sans",
 "locale": {"number": {"decimal": ".", "thousands": ",", "grouping": [3], "currency": ["$", ""], "minus": "-"}},
 "numberFormat": "~g",
 "view": {"stroke": "#000000", "strokeWidth": 1},
 "line": {"strokeWidth": 3, "interpolate": "monotone"},
 "axis": {"domain": false, "grid": false, "tickColor": "#000000", "tickSize": -3, "tickWidth": 1, "labelFont": "Liberation Sans", "labelFontSize": 11, "labelColor": "#000000", "labelOverlap": false, "titleFont": "Liberation Sans", "titleFontSize": 11, "titleFontWeight": "normal", "titleColor": "#000000"},
 "axisX": {"labelFlush": false, "labelPadding": 6.5, "titlePadding": 0},
 "axisY": {"labelPadding": 6, "titleX": -35, "titleBaseline": "middle"},
 "title": {"font": "Liberation Sans", "fontSize": 11, "fontWeight": "bold", "color": "#000000", "frame": "group", "anchor": "middle", "baseline": "alphabetic"},
 "legend": {"orient": "none", "legendX": 502, "legendY": 419, "strokeColor": "#000000", "strokeWidth": 1, "fillColor": "#ffffff", "padding": 4, "symbolType": "M-1,0H6", "symbolSize": 100, "symbolStrokeWidth": 3, "labelFont": "Liberation Sans", "labelFontSize": 11, "labelColor": "#000000", "labelOffset": 29, "rowPadding": 1.2, "labelLimit": 300}
}
}
